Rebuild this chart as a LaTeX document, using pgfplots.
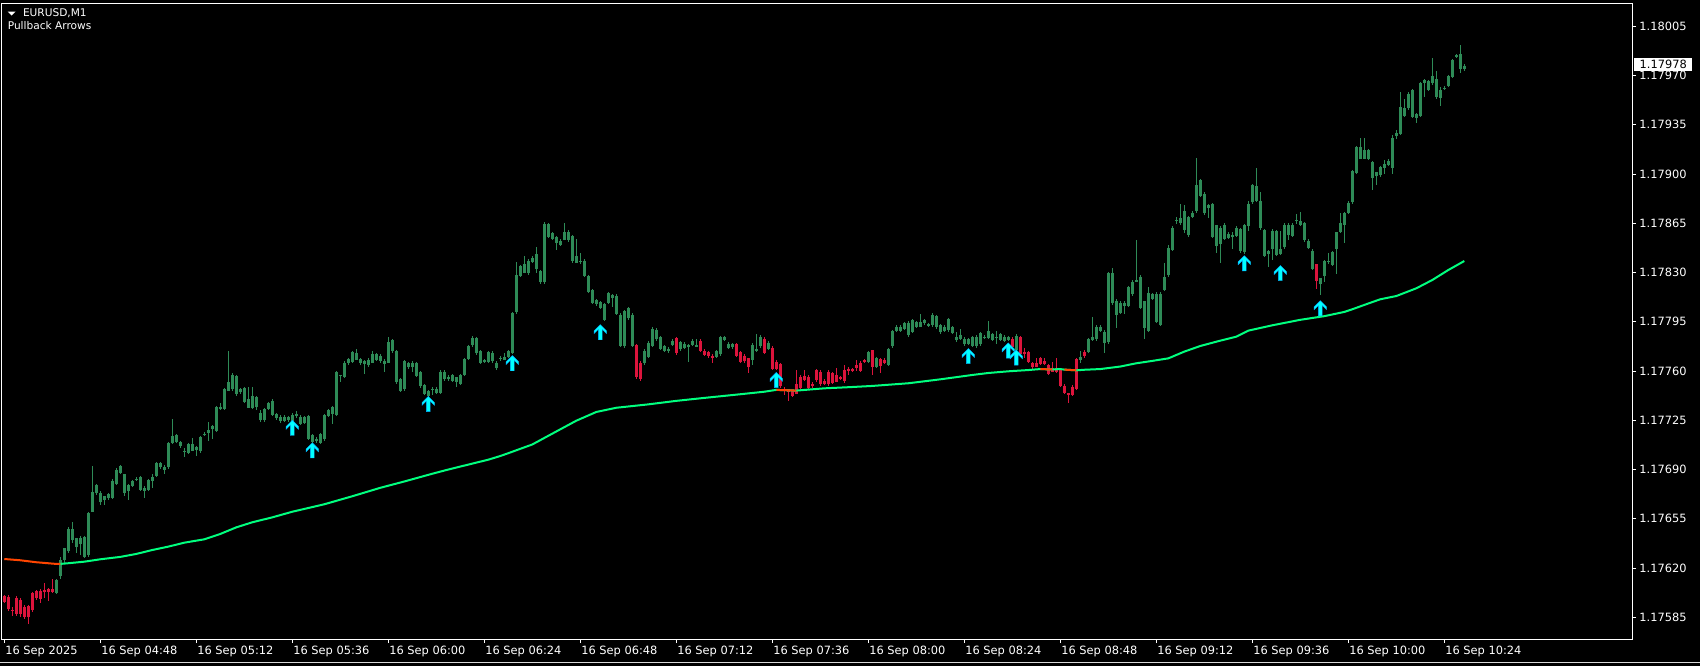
\documentclass[border=0pt]{standalone}
\usepackage{fontspec}
\setmainfont{DejaVu Sans}
\usepackage{pgfplots}
\usepackage{pgfplotstable}
\pgfplotsset{compat=1.18}
\definecolor{cg}{RGB}{46,139,87}
\definecolor{cr}{RGB}{220,20,60}
\definecolor{ma}{RGB}{0,255,127}
\definecolor{mo}{RGB}{255,69,0}
\definecolor{ac}{RGB}{0,255,255}
\definecolor{ab}{RGB}{0,170,255}

\pgfdeclareplotmark{uparr}{%
 \pgfpathmoveto{\pgfpoint{0pt}{0pt}}%
 \pgfpathlineto{\pgfpoint{3.1pt}{-3.1pt}}%
 \pgfpathlineto{\pgfpoint{3.1pt}{-4.5pt}}%
 \pgfpathlineto{\pgfpoint{0.95pt}{-2.35pt}}%
 \pgfpathlineto{\pgfpoint{0.95pt}{-7.6pt}}%
 \pgfpathlineto{\pgfpoint{-0.95pt}{-7.6pt}}%
 \pgfpathlineto{\pgfpoint{-0.95pt}{-2.35pt}}%
 \pgfpathlineto{\pgfpoint{-3.1pt}{-4.5pt}}%
 \pgfpathlineto{\pgfpoint{-3.1pt}{-3.1pt}}%
 \pgfpathclose
 \pgfusepathqfillstroke}

% t = minutes after 04:24; bt/bb = body top/bottom; h/l = high/low; k = 1 red, 0 green
\pgfplotstableread{
t bt bb h l k
0 1.17601 1.17597 1.17602 1.17596 1
1 1.17600 1.17591 1.17601 1.17590 1
2 1.17591 1.17590 1.17593 1.17587 1
3 1.17600 1.17588 1.17601 1.17587 1
4 1.17598 1.17588 1.17599 1.17585 1
5 1.17593 1.17586 1.17594 1.17584 1
6 1.17593 1.17585 1.17594 1.17581 1
7 1.17603 1.17591 1.17604 1.17590 1
8 1.17605 1.17600 1.17606 1.17599 1
9 1.17604 1.17598 1.17605 1.17595 1
10 1.17606 1.17605 1.17610 1.17600 1
11 1.17606 1.17604 1.17607 1.17598 1
12 1.17606 1.17604 1.17613 1.17603 1
13 1.17613 1.17604 1.17614 1.17603 0
14 1.17626 1.17614 1.17628 1.17613 0
15 1.17634 1.17626 1.17635 1.17624 0
16 1.17649 1.17633 1.17650 1.17632 0
17 1.17648 1.17640 1.17654 1.17639 0
18 1.17642 1.17636 1.17643 1.17632 0
19 1.17642 1.17638 1.17643 1.17630 0
20 1.17643 1.17629 1.17644 1.17628 0
21 1.17659 1.17629 1.17660 1.17628 0
22 1.17675 1.17661 1.17693 1.17660 0
23 1.17679 1.17673 1.17680 1.17672 0
24 1.17674 1.17668 1.17675 1.17665 0
25 1.17672 1.17669 1.17673 1.17666 0
26 1.17674 1.17671 1.17675 1.17670 0
27 1.17683 1.17671 1.17684 1.17670 0
28 1.17691 1.17681 1.17692 1.17680 0
29 1.17692 1.17687 1.17693 1.17686 0
30 1.17687 1.17674 1.17688 1.17672 0
31 1.17680 1.17676 1.17681 1.17670 0
32 1.17683 1.17680 1.17684 1.17679 0
33 1.17685 1.17684 1.17686 1.17683 0
34 1.17685 1.17676 1.17686 1.17675 0
35 1.17678 1.17676 1.17679 1.17671 0
36 1.17683 1.17676 1.17684 1.17675 0
37 1.17686 1.17683 1.17687 1.17677 0
38 1.17694 1.17685 1.17695 1.17684 0
39 1.17695 1.17692 1.17696 1.17691 0
40 1.17693 1.17691 1.17694 1.17688 0
41 1.17710 1.17693 1.17711 1.17692 0
42 1.17714 1.17709 1.17726 1.17708 0
43 1.17715 1.17710 1.17716 1.17709 0
44 1.17710 1.17707 1.17711 1.17706 0
45 1.17705 1.17704 1.17706 1.17700 0
46 1.17709 1.17703 1.17710 1.17702 0
47 1.17710 1.17705 1.17713 1.17704 0
48 1.17706 1.17704 1.17707 1.17700 0
49 1.17714 1.17704 1.17715 1.17703 0
50 1.17716 1.17715 1.17717 1.17714 0
51 1.17719 1.17717 1.17724 1.17711 0
52 1.17721 1.17719 1.17722 1.17712 0
53 1.17735 1.17718 1.17736 1.17717 0
54 1.17735 1.17734 1.17738 1.17733 0
55 1.17748 1.17734 1.17749 1.17733 0
56 1.17754 1.17747 1.17774 1.17746 0
57 1.17758 1.17748 1.17760 1.17747 0
58 1.17758 1.17745 1.17759 1.17744 0
59 1.17747 1.17745 1.17748 1.17744 0
60 1.17749 1.17739 1.17750 1.17738 0
61 1.17741 1.17735 1.17749 1.17734 0
62 1.17743 1.17735 1.17750 1.17734 0
63 1.17742 1.17735 1.17743 1.17733 0
64 1.17731 1.17726 1.17732 1.17724 0
65 1.17734 1.17726 1.17735 1.17725 0
66 1.17738 1.17734 1.17739 1.17733 0
67 1.17740 1.17730 1.17741 1.17729 0
68 1.17730 1.17727 1.17731 1.17726 0
69 1.17729 1.17726 1.17730 1.17724 0
70 1.17729 1.17726 1.17730 1.17725 0
71 1.17728 1.17726 1.17729 1.17725 0
72 1.17730 1.17724 1.17731 1.17723 0
73 1.17730 1.17729 1.17733 1.17728 0
74 1.17728 1.17723 1.17729 1.17722 0
75 1.17727 1.17723 1.17728 1.17722 0
76 1.17729 1.17713 1.17730 1.17712 0
77 1.17716 1.17711 1.17717 1.17710 0
78 1.17712 1.17710 1.17713 1.17709 0
79 1.17716 1.17710 1.17717 1.17709 0
80 1.17730 1.17713 1.17731 1.17712 0
81 1.17734 1.17730 1.17735 1.17729 0
82 1.17735 1.17730 1.17736 1.17723 0
83 1.17760 1.17730 1.17761 1.17729 0
84 1.17758 1.17757 1.17759 1.17754 0
85 1.17767 1.17757 1.17768 1.17756 0
86 1.17769 1.17766 1.17770 1.17765 0
87 1.17774 1.17767 1.17775 1.17766 0
88 1.17774 1.17769 1.17776 1.17768 0
89 1.17770 1.17767 1.17771 1.17766 0
90 1.17768 1.17766 1.17769 1.17759 0
91 1.17768 1.17764 1.17769 1.17763 0
92 1.17773 1.17767 1.17775 1.17766 0
93 1.17773 1.17769 1.17774 1.17768 0
94 1.17771 1.17767 1.17772 1.17766 0
95 1.17768 1.17766 1.17769 1.17760 0
96 1.17782 1.17767 1.17785 1.17766 0
97 1.17782 1.17774 1.17783 1.17773 0
98 1.17775 1.17753 1.17776 1.17752 0
99 1.17755 1.17747 1.17756 1.17746 0
100 1.17767 1.17747 1.17768 1.17746 0
101 1.17767 1.17764 1.17768 1.17763 0
102 1.17767 1.17764 1.17768 1.17760 0
103 1.17766 1.17757 1.17767 1.17756 0
104 1.17760 1.17750 1.17761 1.17749 0
105 1.17751 1.17745 1.17752 1.17744 0
106 1.17747 1.17744 1.17748 1.17743 0
107 1.17749 1.17748 1.17750 1.17744 0
108 1.17748 1.17745 1.17749 1.17744 0
109 1.17760 1.17745 1.17761 1.17744 0
110 1.17760 1.17755 1.17762 1.17754 0
111 1.17757 1.17755 1.17758 1.17754 0
112 1.17758 1.17754 1.17759 1.17753 0
113 1.17756 1.17752 1.17757 1.17750 0
114 1.17758 1.17752 1.17759 1.17751 0
115 1.17769 1.17758 1.17770 1.17757 0
116 1.17779 1.17770 1.17780 1.17769 0
117 1.17784 1.17779 1.17786 1.17778 0
118 1.17785 1.17774 1.17786 1.17773 0
119 1.17775 1.17767 1.17776 1.17766 0
120 1.17768 1.17767 1.17769 1.17766 0
121 1.17774 1.17767 1.17775 1.17766 0
122 1.17774 1.17768 1.17775 1.17767 0
123 1.17767 1.17763 1.17768 1.17762 0
124 1.17770 1.17769 1.17771 1.17767 0
125 1.17771 1.17769 1.17773 1.17768 0
126 1.17774 1.17770 1.17775 1.17769 0
127 1.17802 1.17774 1.17803 1.17773 0
128 1.17829 1.17803 1.17839 1.17802 0
129 1.17835 1.17828 1.17836 1.17827 0
130 1.17837 1.17831 1.17842 1.17830 0
131 1.17840 1.17831 1.17841 1.17830 0
132 1.17841 1.17838 1.17842 1.17837 0
133 1.17843 1.17832 1.17850 1.17831 0
134 1.17831 1.17823 1.17832 1.17822 0
135 1.17865 1.17824 1.17867 1.17823 0
136 1.17865 1.17856 1.17866 1.17855 0
137 1.17859 1.17855 1.17860 1.17854 0
138 1.17856 1.17852 1.17857 1.17847 0
139 1.17854 1.17851 1.17855 1.17850 0
140 1.17860 1.17854 1.17865 1.17853 0
141 1.17860 1.17854 1.17861 1.17853 0
142 1.17856 1.17838 1.17857 1.17837 0
143 1.17843 1.17838 1.17854 1.17837 0
144 1.17839 1.17838 1.17845 1.17837 0
145 1.17839 1.17828 1.17840 1.17827 0
146 1.17829 1.17818 1.17830 1.17817 0
147 1.17818 1.17809 1.17819 1.17808 0
148 1.17811 1.17808 1.17812 1.17807 0
149 1.17809 1.17805 1.17810 1.17804 0
150 1.17809 1.17798 1.17810 1.17797 0
151 1.17816 1.17809 1.17817 1.17808 0
152 1.17815 1.17813 1.17816 1.17807 0
153 1.17814 1.17801 1.17815 1.17800 0
154 1.17801 1.17779 1.17802 1.17778 0
155 1.17804 1.17779 1.17805 1.17778 0
156 1.17805 1.17798 1.17806 1.17797 0
157 1.17801 1.17779 1.17802 1.17778 0
158 1.17779 1.17756 1.17780 1.17755 1
159 1.17767 1.17755 1.17768 1.17754 1
160 1.17775 1.17766 1.17776 1.17765 0
161 1.17780 1.17770 1.17781 1.17769 0
162 1.17791 1.17779 1.17792 1.17778 0
163 1.17790 1.17783 1.17791 1.17782 0
164 1.17784 1.17776 1.17785 1.17775 0
165 1.17779 1.17776 1.17780 1.17775 0
166 1.17777 1.17775 1.17778 1.17774 0
167 1.17782 1.17779 1.17783 1.17778 0
168 1.17785 1.17774 1.17786 1.17773 1
169 1.17782 1.17777 1.17783 1.17776 0
170 1.17780 1.17777 1.17781 1.17776 0
171 1.17779 1.17778 1.17780 1.17767 0
172 1.17782 1.17779 1.17783 1.17778 0
173 1.17780 1.17779 1.17784 1.17778 0
174 1.17782 1.17775 1.17783 1.17774 1
175 1.17776 1.17773 1.17777 1.17772 1
176 1.17774 1.17771 1.17775 1.17770 1
177 1.17771 1.17770 1.17772 1.17766 1
178 1.17775 1.17771 1.17776 1.17770 0
179 1.17785 1.17773 1.17786 1.17772 0
180 1.17784 1.17782 1.17785 1.17781 0
181 1.17780 1.17777 1.17781 1.17776 0
182 1.17780 1.17778 1.17781 1.17777 0
183 1.17779 1.17771 1.17780 1.17770 1
184 1.17774 1.17767 1.17775 1.17766 1
185 1.17771 1.17767 1.17772 1.17766 1
186 1.17770 1.17764 1.17771 1.17760 1
187 1.17779 1.17768 1.17780 1.17764 0
188 1.17776 1.17775 1.17787 1.17774 0
189 1.17785 1.17779 1.17787 1.17778 0
190 1.17784 1.17774 1.17785 1.17773 1
191 1.17780 1.17776 1.17781 1.17775 0
192 1.17777 1.17762 1.17778 1.17761 1
193 1.17767 1.17762 1.17768 1.17761 1
194 1.17766 1.17750 1.17767 1.17749 1
195 1.17748 1.17747 1.17749 1.17743 1
196 1.17747 1.17745 1.17748 1.17740 1
197 1.17747 1.17744 1.17748 1.17743 1
198 1.17752 1.17745 1.17761 1.17744 1
199 1.17757 1.17749 1.17758 1.17748 1
200 1.17757 1.17754 1.17761 1.17753 1
201 1.17757 1.17749 1.17758 1.17748 1
202 1.17753 1.17751 1.17754 1.17750 1
203 1.17761 1.17754 1.17762 1.17753 1
204 1.17760 1.17751 1.17761 1.17750 1
205 1.17754 1.17752 1.17755 1.17751 1
206 1.17761 1.17752 1.17762 1.17751 1
207 1.17759 1.17752 1.17760 1.17751 1
208 1.17758 1.17753 1.17762 1.17752 1
209 1.17757 1.17756 1.17758 1.17755 1
210 1.17762 1.17754 1.17766 1.17753 1
211 1.17762 1.17761 1.17763 1.17757 1
212 1.17763 1.17762 1.17764 1.17761 1
213 1.17764 1.17762 1.17769 1.17761 1
214 1.17767 1.17761 1.17768 1.17760 1
215 1.17768 1.17767 1.17769 1.17766 1
216 1.17774 1.17767 1.17775 1.17766 0
217 1.17775 1.17763 1.17776 1.17758 1
218 1.17770 1.17764 1.17771 1.17763 0
219 1.17769 1.17764 1.17770 1.17759 1
220 1.17769 1.17767 1.17770 1.17766 1
221 1.17777 1.17766 1.17778 1.17765 0
222 1.17789 1.17778 1.17790 1.17777 0
223 1.17792 1.17789 1.17793 1.17788 0
224 1.17793 1.17790 1.17794 1.17789 0
225 1.17794 1.17790 1.17795 1.17789 0
226 1.17796 1.17787 1.17797 1.17786 0
227 1.17796 1.17788 1.17797 1.17787 0
228 1.17796 1.17793 1.17797 1.17792 0
229 1.17796 1.17793 1.17801 1.17792 0
230 1.17796 1.17794 1.17797 1.17793 0
231 1.17794 1.17793 1.17795 1.17792 0
232 1.17800 1.17793 1.17802 1.17792 0
233 1.17800 1.17792 1.17801 1.17791 0
234 1.17793 1.17788 1.17794 1.17787 0
235 1.17792 1.17789 1.17793 1.17788 0
236 1.17798 1.17790 1.17799 1.17789 0
237 1.17792 1.17788 1.17793 1.17787 0
238 1.17785 1.17783 1.17789 1.17782 0
239 1.17787 1.17784 1.17791 1.17783 0
240 1.17784 1.17780 1.17785 1.17779 0
241 1.17783 1.17780 1.17784 1.17779 0
242 1.17785 1.17779 1.17786 1.17778 0
243 1.17785 1.17779 1.17787 1.17778 0
244 1.17787 1.17779 1.17788 1.17778 0
245 1.17785 1.17784 1.17786 1.17783 0
246 1.17789 1.17784 1.17796 1.17783 0
247 1.17787 1.17783 1.17788 1.17782 0
248 1.17785 1.17784 1.17789 1.17780 0
249 1.17787 1.17783 1.17788 1.17782 0
250 1.17785 1.17782 1.17786 1.17781 0
251 1.17785 1.17783 1.17786 1.17782 0
252 1.17783 1.17777 1.17784 1.17776 1
253 1.17786 1.17776 1.17787 1.17775 0
254 1.17785 1.17773 1.17786 1.17772 1
255 1.17774 1.17773 1.17777 1.17770 1
256 1.17774 1.17767 1.17775 1.17766 1
257 1.17767 1.17764 1.17768 1.17763 1
258 1.17767 1.17764 1.17770 1.17763 1
259 1.17770 1.17766 1.17771 1.17765 1
260 1.17768 1.17766 1.17770 1.17765 1
261 1.17765 1.17759 1.17766 1.17758 1
262 1.17764 1.17761 1.17767 1.17760 1
263 1.17763 1.17760 1.17770 1.17759 1
264 1.17762 1.17751 1.17763 1.17750 1
265 1.17750 1.17745 1.17751 1.17744 1
266 1.17745 1.17744 1.17746 1.17739 1
267 1.17750 1.17744 1.17751 1.17743 1
268 1.17770 1.17749 1.17771 1.17748 1
269 1.17770 1.17768 1.17775 1.17767 0
270 1.17774 1.17771 1.17776 1.17770 1
271 1.17783 1.17774 1.17784 1.17773 0
272 1.17785 1.17783 1.17799 1.17782 0
273 1.17792 1.17783 1.17793 1.17782 0
274 1.17793 1.17790 1.17794 1.17789 0
275 1.17789 1.17781 1.17790 1.17774 0
276 1.17831 1.17782 1.17832 1.17781 0
277 1.17831 1.17809 1.17834 1.17808 0
278 1.17811 1.17801 1.17812 1.17791 0
279 1.17809 1.17802 1.17810 1.17801 0
280 1.17809 1.17807 1.17810 1.17801 0
281 1.17820 1.17807 1.17821 1.17806 0
282 1.17824 1.17816 1.17826 1.17815 0
283 1.17826 1.17824 1.17853 1.17823 0
284 1.17828 1.17806 1.17829 1.17805 0
285 1.17809 1.17790 1.17810 1.17783 0
286 1.17816 1.17789 1.17820 1.17788 0
287 1.17816 1.17813 1.17817 1.17812 0
288 1.17816 1.17796 1.17817 1.17795 0
289 1.17816 1.17794 1.17817 1.17793 0
290 1.17828 1.17819 1.17838 1.17818 0
291 1.17847 1.17828 1.17850 1.17827 0
292 1.17863 1.17847 1.17864 1.17846 0
293 1.17867 1.17866 1.17869 1.17864 0
294 1.17870 1.17866 1.17880 1.17865 0
295 1.17873 1.17860 1.17879 1.17859 0
296 1.17870 1.17857 1.17871 1.17856 0
297 1.17873 1.17870 1.17874 1.17869 0
298 1.17894 1.17875 1.17913 1.17874 0
299 1.17895 1.17884 1.17896 1.17883 0
300 1.17887 1.17873 1.17888 1.17872 0
301 1.17879 1.17877 1.17880 1.17870 0
302 1.17879 1.17856 1.17880 1.17855 0
303 1.17864 1.17849 1.17865 1.17845 0
304 1.17863 1.17851 1.17864 1.17838 0
305 1.17865 1.17855 1.17866 1.17854 0
306 1.17858 1.17855 1.17859 1.17854 0
307 1.17858 1.17856 1.17859 1.17847 0
308 1.17863 1.17857 1.17864 1.17856 0
309 1.17862 1.17846 1.17863 1.17845 0
310 1.17865 1.17846 1.17866 1.17845 0
311 1.17880 1.17864 1.17881 1.17860 0
312 1.17893 1.17881 1.17894 1.17880 0
313 1.17893 1.17882 1.17905 1.17881 0
314 1.17882 1.17863 1.17889 1.17862 0
315 1.17861 1.17843 1.17862 1.17842 0
316 1.17846 1.17844 1.17847 1.17835 0
317 1.17860 1.17847 1.17861 1.17839 0
318 1.17860 1.17843 1.17861 1.17842 0
319 1.17848 1.17844 1.17860 1.17843 0
320 1.17865 1.17849 1.17866 1.17848 0
321 1.17864 1.17857 1.17865 1.17853 0
322 1.17865 1.17857 1.17866 1.17856 0
323 1.17867 1.17866 1.17872 1.17865 0
324 1.17867 1.17864 1.17873 1.17863 0
325 1.17865 1.17853 1.17866 1.17852 0
326 1.17853 1.17848 1.17854 1.17847 0
327 1.17847 1.17834 1.17848 1.17833 0
328 1.17836 1.17824 1.17837 1.17819 1
329 1.17826 1.17822 1.17827 1.17815 0
330 1.17839 1.17828 1.17840 1.17824 0
331 1.17839 1.17838 1.17845 1.17837 0
332 1.17846 1.17837 1.17847 1.17836 0
333 1.17859 1.17847 1.17860 1.17830 0
334 1.17866 1.17860 1.17873 1.17859 0
335 1.17873 1.17864 1.17874 1.17852 0
336 1.17880 1.17873 1.17881 1.17872 0
337 1.17902 1.17880 1.17903 1.17879 0
338 1.17919 1.17901 1.17920 1.17900 0
339 1.17920 1.17912 1.17926 1.17911 0
340 1.17918 1.17912 1.17926 1.17911 0
341 1.17918 1.17912 1.17919 1.17911 0
342 1.17909 1.17898 1.17910 1.17890 0
343 1.17902 1.17899 1.17903 1.17894 0
344 1.17905 1.17899 1.17906 1.17898 0
345 1.17909 1.17906 1.17910 1.17900 0
346 1.17910 1.17907 1.17911 1.17906 0
347 1.17927 1.17906 1.17928 1.17900 0
348 1.17929 1.17927 1.17932 1.17926 0
349 1.17948 1.17929 1.17959 1.17928 0
350 1.17948 1.17942 1.17954 1.17941 0
351 1.17957 1.17947 1.17959 1.17946 0
352 1.17960 1.17941 1.17961 1.17940 0
353 1.17943 1.17940 1.17944 1.17937 0
354 1.17966 1.17943 1.17967 1.17942 0
355 1.17967 1.17965 1.17969 1.17956 0
356 1.17966 1.17960 1.17967 1.17959 0
357 1.17970 1.17965 1.17983 1.17964 0
358 1.17968 1.17955 1.17974 1.17954 0
359 1.17961 1.17955 1.17962 1.17948 0
360 1.17963 1.17962 1.17964 1.17961 0
361 1.17970 1.17963 1.17971 1.17962 0
362 1.17982 1.17970 1.17983 1.17969 0
363 1.17985 1.17984 1.17986 1.17983 0
364 1.17985 1.17974 1.17993 1.17973 0
365 1.17978 1.17976 1.17980 1.17975 0
}\candles

\pgfplotsset{
 wick/.style={draw=none, mark=none, forget plot,
   error bars/y dir=both, error bars/y explicit, error bars/error mark=none,
   error bars/error bar style={line width=0.55pt, draw=#1, solid}},
 body/.style={draw=none, mark=none, forget plot,
   error bars/y dir=both, error bars/y explicit, error bars/error mark=none,
   error bars/error bar style={line width=1.75pt, draw=#1, solid}},
}

\begin{document}
\begin{tikzpicture}
\useasboundingbox (0,0) rectangle (850pt,333pt);
\fill[black] (0,0) rectangle (850pt,333pt);
\draw[white!85!black, line width=0.5pt] (0,1.6pt) -- (850pt,1.6pt);
\begin{axis}[
  at={(1pt,13.5pt)}, anchor=south west,
  scale only axis, width=815pt, height=318pt,
  xmin=-0.575, xmax=406.925,
  ymin=1.1756954, ymax=1.1802156,
  clip mode=individual,
  axis background/.style={fill=black},
  axis line style={white, line width=0.5pt},
  tick align=outside, major tick length=2pt,
  tick style={white, line width=0.5pt},
  xtick pos=lower, ytick pos=right, yticklabel pos=right,
  xtick={0,24,...,360},
  xticklabels={16 Sep 2025,16 Sep 04:48,16 Sep 05:12,16 Sep 05:36,16 Sep 06:00,16 Sep 06:24,16 Sep 06:48,16 Sep 07:12,16 Sep 07:36,16 Sep 08:00,16 Sep 08:24,16 Sep 08:48,16 Sep 09:12,16 Sep 09:36,16 Sep 10:00,16 Sep 10:24},
  ytick={1.17585,1.17620,1.17655,1.17690,1.17725,1.17760,1.17795,1.17830,1.17865,1.17900,1.17935,1.17970,1.18005},
  yticklabels={1.17585,1.17620,1.17655,1.17690,1.17725,1.17760,1.17795,1.17830,1.17865,1.17900,1.17935,1.17970,1.18005},
  ticklabel style={font=\fontsize{5.7}{6.8}\selectfont, text=white},
  xticklabel style={anchor=north west, inner sep=0pt, xshift=0.3pt, yshift=-1.2pt},
  yticklabel style={anchor=west, inner sep=0pt, xshift=1.5pt},
]
% wicks and bodies, green
\addplot[wick=cg, restrict expr to domain={\thisrow{k}}{0:0}] table[x=t, y expr={(\thisrow{h}+\thisrow{l})/2}, y error expr={(\thisrow{h}-\thisrow{l})/2}] {\candles};
\addplot[body=cg, restrict expr to domain={\thisrow{k}}{0:0}] table[x=t, y expr={(\thisrow{bt}+\thisrow{bb})/2}, y error expr={max((\thisrow{bt}-\thisrow{bb})/2,0.0000036)}] {\candles};
% red
\addplot[wick=cr, restrict expr to domain={\thisrow{k}}{1:1}] table[x=t, y expr={(\thisrow{h}+\thisrow{l})/2}, y error expr={(\thisrow{h}-\thisrow{l})/2}] {\candles};
\addplot[body=cr, restrict expr to domain={\thisrow{k}}{1:1}] table[x=t, y expr={(\thisrow{bt}+\thisrow{bb})/2}, y error expr={max((\thisrow{bt}-\thisrow{bb})/2,0.0000036)}] {\candles};
% moving average (rising part green)
\addplot[ma, line width=1pt, forget plot] coordinates {
(14,1.176229) (16,1.176234) (20,1.176245) (24,1.176262) (29,1.176279) (33,1.176300) (37,1.176328) (41,1.176352) (45,1.176380) (50,1.176404) (54,1.176442) (58,1.176489) (62,1.176525) (67,1.176560) (72,1.176600) (80,1.176653) (87,1.176710) (94,1.176770) (100,1.176815) (107,1.176870) (111,1.176900) (116,1.176935) (121,1.176970) (124,1.176996) (126,1.177016) (132,1.177078) (137,1.177155) (143,1.177247) (148,1.177309) (153,1.177339) (161,1.177363) (168,1.177388) (175,1.177409) (184,1.177435) (190,1.177453) (193,1.177466) (198,1.177461) (205,1.177477) (211,1.177485) (217,1.177494) (226,1.177513) (234,1.177541) (242,1.177572) (246,1.177586) (251,1.177598) (256,1.177607) (259,1.177614) (262,1.177611) (264,1.177614) (265,1.177610) (268,1.177605) (270,1.177609) (274,1.177614) (279,1.177632) (283,1.177655) (287,1.177672) (291,1.177690) (295,1.177738) (299,1.177778) (304,1.177816) (308,1.177844) (311,1.177887) (317,1.177925) (324,1.177964) (330,1.177990) (335,1.178020) (337,1.178039) (341,1.178080) (344,1.178110) (348,1.178133) (353,1.178188) (357,1.178247) (361,1.178318) (365,1.178382)};
% falling parts orange
\addplot[mo, line width=1pt, forget plot] coordinates {(0,1.176264) (4,1.176255) (8,1.176241) (13,1.176229) (14,1.176229)};
\addplot[mo, line width=1pt, forget plot] coordinates {(193,1.177466) (196,1.177463) (198,1.177461)};
\addplot[mo, line width=1pt, forget plot] coordinates {(259,1.177614) (262,1.177611)};
\addplot[mo, line width=1pt, forget plot] coordinates {(265,1.177610) (268,1.177605)};
% pullback arrows (tip at the given price)
\addplot[only marks, mark=uparr, mark options={fill=ac, draw=ab, line width=0.2pt}, forget plot] coordinates {
(72,1.17725) (77,1.17709) (106,1.17742) (127,1.17771) (149,1.17793) (193,1.17759) (241,1.17776) (251,1.17780) (253,1.17775) (310,1.17842) (319,1.17835) (329,1.17810)};
\coordinate (cp) at (axis cs:406.925,1.17978);
\end{axis}
\node[fill=white, text=black, anchor=west, inner xsep=2.6pt, inner ysep=0pt, minimum height=6.5pt, xshift=1pt, font=\fontsize{5.7}{6.8}\selectfont] at (cp) {1.17978};
\fill[white] (3.8pt,327.2pt) -- (7.8pt,327.2pt) -- (5.8pt,325.2pt) -- cycle;
\node[anchor=west, inner sep=0pt, text=white, font=\fontsize{5.3}{6.3}\selectfont] at (11.3pt,326.2pt) {EURUSD,M1};
\node[anchor=west, inner sep=0pt, text=white, font=\fontsize{5.3}{6.3}\selectfont] at (3.7pt,320.2pt) {Pullback Arrows};
\end{tikzpicture}
\end{document}
